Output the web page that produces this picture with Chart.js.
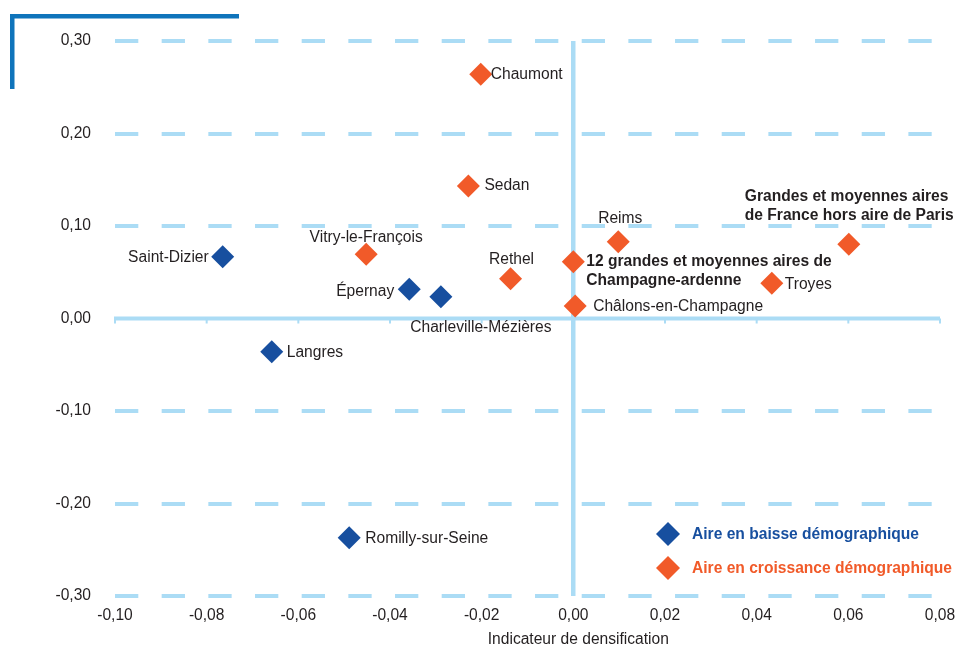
<!DOCTYPE html>
<html><head><meta charset="utf-8">
<script src="https://cdn.jsdelivr.net/npm/chart.js@4/dist/chart.umd.min.js"></script>
<style>html,body{margin:0;padding:0;background:#fff}#wrap{width:957px;height:648px}</style>
</head><body><div id="wrap"><canvas id="c" width="957" height="648"></canvas></div>
<script>
// ---- data ----
const names = ['Saint-Dizier','Langres','Romilly-sur-Seine','Épernay','Charleville-Mézières',
  'Chaumont','Sedan','Vitry-le-François','Rethel','12 grandes et moyennes aires de\nChampagne-ardenne',
  'Reims','Châlons-en-Champagne','Troyes','Grandes et moyennes aires\nde France hors aire de Paris'];
const xValues = [-0.0765,-0.0658,-0.0489,-0.0358,-0.0289,
  -0.0202,-0.0229,-0.0452,-0.0137,0.0000,
  0.0098,0.0004,0.0433,0.0601];
const yValues = [0.0668,-0.0359,-0.2370,0.0316,0.0236,
  0.2640,0.1432,0.0694,0.0430,0.0614,
  0.0830,0.0135,0.0380,0.0802];
const groups = ['baisse','baisse','baisse','baisse','baisse',
  'croissance','croissance','croissance','croissance','croissance',
  'croissance','croissance','croissance','croissance'];
const seriesKeys = ['baisse','croissance'];
const seriesNames = ['Aire en baisse démographique','Aire en croissance démographique'];
const xTicks = [-0.10,-0.08,-0.06,-0.04,-0.02,0.00,0.02,0.04,0.06,0.08];
const yTicks = [-0.30,-0.20,-0.10,0.00,0.10,0.20,0.30];
const xTitle = 'Indicateur de densification';

// ---- layout / styles ----
const COLORS = {baisse:'#174f9f', croissance:'#f15a29'};
const GRID = '#abdcf5';
const TEXT = '#231f20';
const FONT = "'Liberation Sans', Arial, Helvetica, sans-serif";
const FS = 15.6;
const labelLayout = [
  {dx:-14, dy:1, align:'right'},
  {dx:15, dy:1, align:'left'},
  {dx:16, dy:1, align:'left'},
  {dx:-15, dy:2, align:'right'},
  {dx:40, dy:31, align:'center'},
  {dx:10, dy:0, align:'left'},
  {dx:16, dy:0, align:'left'},
  {dx:0, dy:-17, align:'center'},
  {dx:1, dy:-19, align:'center'},
  {dx:13, dy:0, align:'left', bold:true, lh:18.5},
  {dx:2, dy:-23, align:'center'},
  {dx:18, dy:1, align:'left'},
  {dx:13, dy:1, align:'left'},
  {dx:-104, dy:-47.5, align:'left', bold:true, lh:18.5}
];

const fmt = v => (Math.abs(v) < 1e-9 ? 0 : v).toFixed(2).replace('.', ',');

const datasets = seriesKeys.map((k, si) => ({
  label: seriesNames[si],
  data: names.map((n, i) => ({x: xValues[i], y: yValues[i], idx: i})).filter(p => groups[p.idx] === k),
  pointStyle: 'rectRot',
  pointRadius: 11.5,
  pointHoverRadius: 11.5,
  backgroundColor: COLORS[k],
  borderColor: COLORS[k],
  borderWidth: 0
}));

const overlay = {
  id: 'overlay',
  beforeDatasetsDraw(chart) {
    const {ctx, chartArea: a, scales: {x, y}} = chart;
    const y0 = y.getPixelForValue(0);
    ctx.save();
    ctx.strokeStyle = GRID;
    ctx.lineWidth = 4;
    ctx.beginPath();
    ctx.moveTo(a.left - 1, y0); ctx.lineTo(a.right, y0);
    ctx.stroke();
    ctx.lineWidth = 2;
    xTicks.forEach(v => {
      const px = x.getPixelForValue(v);
      ctx.beginPath(); ctx.moveTo(px, y0); ctx.lineTo(px, y0 + 5); ctx.stroke();
    });
    ctx.restore();
  },
  afterDatasetsDraw(chart) {
    const {ctx, scales: {x}} = chart;
    ctx.save();
    ctx.fillStyle = TEXT;
    ctx.textBaseline = 'middle';
    chart.data.datasets.forEach((ds, di) => {
      const meta = chart.getDatasetMeta(di);
      meta.data.forEach((el, j) => {
        const i = ds.data[j].idx;
        const L = labelLayout[i];
        ctx.font = (L.bold ? 'bold ' : '') + FS + 'px ' + FONT;
        ctx.textAlign = L.align;
        names[i].split('\n').forEach((line, k) => {
          ctx.fillText(line, el.x + L.dx, el.y + L.dy + k * (L.lh || 18));
        });
      });
    });
    // axis title
    ctx.font = FS + 'px ' + FONT;
    ctx.textAlign = 'center';
    ctx.fillText(xTitle, x.getPixelForValue(0) + 5, 640);
    // legend
    const lx = 668, ly = [534, 568];
    seriesKeys.forEach((k, si) => {
      ctx.fillStyle = COLORS[k];
      ctx.beginPath();
      ctx.moveTo(lx - 12, ly[si]); ctx.lineTo(lx, ly[si] - 12);
      ctx.lineTo(lx + 12, ly[si]); ctx.lineTo(lx, ly[si] + 12);
      ctx.closePath(); ctx.fill();
      ctx.font = 'bold ' + FS + 'px ' + FONT;
      ctx.textAlign = 'left';
      ctx.fillText(seriesNames[si], 692, ly[si] + 1);
    });
    // corner decoration
    ctx.fillStyle = '#0f74bb';
    ctx.fillRect(10, 14, 229, 4.5);
    ctx.fillRect(10, 14, 4.5, 75);
    ctx.restore();
  }
};

new Chart(document.getElementById('c'), {
  type: 'scatter',
  data: {datasets},
  plugins: [overlay],
  options: {
    responsive: false,
    animation: false,
    events: [],
    layout: {padding: {top: 41, right: 17, left: 0, bottom: 0}, autoPadding: false},
    plugins: {legend: {display: false}, tooltip: {enabled: false}},
    scales: {
      x: {
        type: 'linear', min: -0.10, max: 0.08,
        afterBuildTicks: s => { s.ticks = xTicks.map(v => ({value: v})); },
        afterFit: s => { s.height = 52; s.paddingLeft = 0; s.paddingRight = 0; },
        ticks: {callback: v => fmt(v), color: TEXT, font: {size: FS, family: FONT}, padding: 10, maxRotation: 0, autoSkip: false},
        grid: {
          drawTicks: false,
          color: c => (c.tick && Math.abs(c.tick.value) < 1e-9) ? GRID : 'rgba(0,0,0,0)',
          lineWidth: 4.5
        },
        border: {display: false}
      },
      y: {
        type: 'linear', min: -0.30, max: 0.30,
        afterBuildTicks: s => { s.ticks = yTicks.map(v => ({value: v})); },
        afterFit: s => { s.width = 115; s.paddingTop = 0; s.paddingBottom = 0; },
        ticks: {callback: v => fmt(v), color: TEXT, font: {size: FS, family: FONT}, padding: 24, autoSkip: false},
        grid: {
          drawTicks: false,
          color: c => (c.tick && Math.abs(c.tick.value) < 1e-9) ? 'rgba(0,0,0,0)' : GRID,
          lineWidth: 4
        },
        border: {display: false, dash: [23.3, 23.37]}
      }
    }
  }
});
</script>
</body></html>
